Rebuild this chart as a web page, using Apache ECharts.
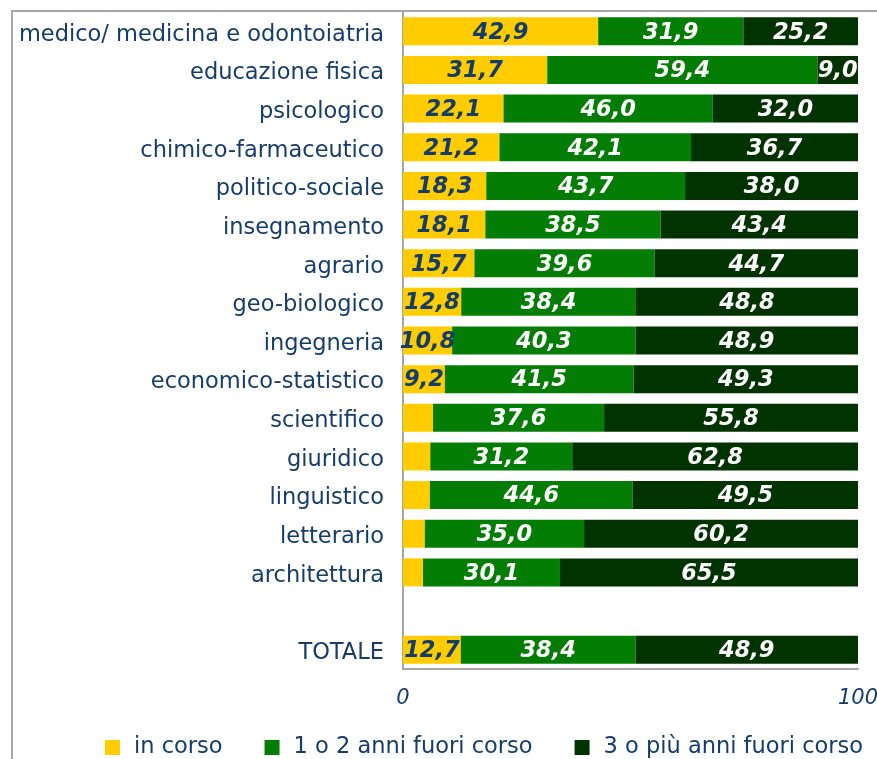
<!DOCTYPE html>
<html>
<head>
<meta charset="utf-8">
<script src="https://cdn.jsdelivr.net/npm/echarts@6/dist/echarts.min.js"></script>
<style>
html,body{margin:0;padding:0;background:#fff;}
#c{width:877px;height:759px;}
</style>
</head>
<body>
<div id="c"></div>
<script>
const categories = ['medico/ medicina e odontoiatria','educazione fisica','psicologico','chimico-farmaceutico','politico-sociale','insegnamento','agrario','geo-biologico','ingegneria','economico-statistico','scientifico','giuridico','linguistico','letterario','architettura','','TOTALE'];
const inCorso = [42.9,31.7,22.1,21.2,18.3,18.1,15.7,12.8,10.8,9.2,6.6,6.0,5.9,4.8,4.4,null,12.7];
const fuori12 = [31.9,59.4,46.0,42.1,43.7,38.5,39.6,38.4,40.3,41.5,37.6,31.2,44.6,35.0,30.1,null,38.4];
const fuori3 = [25.2,9.0,32.0,36.7,38.0,43.4,44.7,48.8,48.9,49.3,55.8,62.8,49.5,60.2,65.5,null,48.9];
const seriesNames = ['in corso','1 o 2 anni fuori corso','3 o più anni fuori corso'];
const xTicks = [0,100];

const NAVY = '#143c6c';
const FONT = 'DejaVu Sans, Verdana, sans-serif';
const fmt = v => v.toFixed(1).replace('.', ',');

function mkSeries(name, data, color, labelColor, minShow) {
  return {
    name: name, type: 'bar', stack: 'tot', data: data, barWidth: 28,
    itemStyle: {color: color},
    label: {
      show: true, position: 'inside', color: labelColor, offset: [0, 1.5],
      fontFamily: FONT, fontSize: 22.5, fontWeight: 'bold', fontStyle: 'italic',
      formatter: p => (p.value == null || p.value < minShow) ? '' : fmt(p.value)
    },
    emphasis: {disabled: true}
  };
}

const chart = echarts.init(document.getElementById('c'), null, {renderer: 'canvas'});
chart.setOption({
  animation: false,
  textStyle: {fontFamily: FONT},
  graphic: [{
    type: 'rect', shape: {x: 12, y: 11, width: 1000, height: 1000},
    style: {fill: null, stroke: '#a6a6a6', lineWidth: 2}, silent: true
  }],
  grid: {left: 403, right: 19, top: 12, bottom: 90, containLabel: false, outerBoundsMode: 'none'},
  xAxis: {
    type: 'value', min: 0, max: 100, interval: 100,
    axisLine: {show: true, lineStyle: {color: '#a6a6a6', width: 2}},
    axisTick: {show: false}, splitLine: {show: false},
    axisLabel: {
      color: NAVY, fontSize: 21, fontStyle: 'italic', fontFamily: FONT, margin: 19,
      formatter: v => xTicks.includes(v) ? String(v) : ''
    }
  },
  yAxis: {
    type: 'category', data: categories, inverse: true,
    axisLine: {show: true, lineStyle: {color: '#a6a6a6', width: 2}},
    axisTick: {show: false},
    axisLabel: {
      color: NAVY, fontSize: 22.5, fontFamily: FONT, margin: 19,
      formatter: v => v ? '{a|' + v + '}' : '',
      rich: {a: {color: NAVY, fontSize: 22.5, fontFamily: FONT, padding: [7, 0, 0, 0]}}
    }
  },
  legend: {
    left: 100, top: 731, itemWidth: 15, itemHeight: 15, itemGap: 42,
    icon: 'rect',
    textStyle: {color: NAVY, fontSize: 22.5, fontFamily: FONT, padding: [0, 0, 0, 9]},
    data: seriesNames
  },
  series: [
    mkSeries(seriesNames[0], inCorso, '#ffcc00', NAVY, 9),
    mkSeries(seriesNames[1], fuori12, '#037d03', '#ffffff', 0),
    mkSeries(seriesNames[2], fuori3, '#003300', '#ffffff', 0)
  ]
});
</script>
</body>
</html>
